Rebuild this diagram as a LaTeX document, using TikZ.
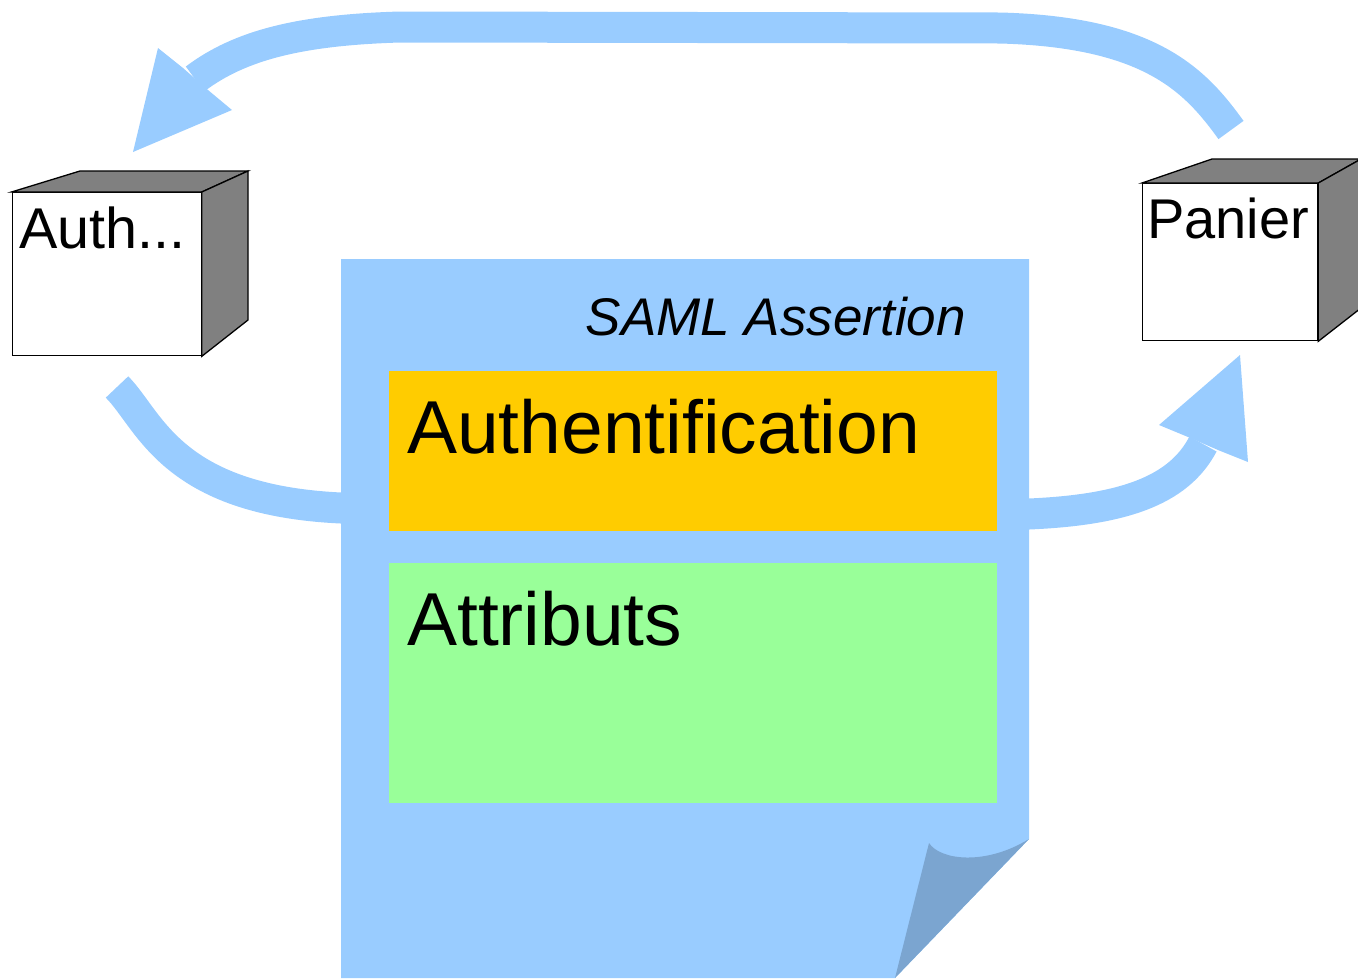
\documentclass[tikz,border=0pt]{standalone}
\usepackage{fontspec}
\setmainfont{Liberation Sans}
\definecolor{docblue}{HTML}{99CCFF}
\definecolor{folddark}{HTML}{7BA5D0}
\definecolor{orangeY}{HTML}{FFCC00}
\definecolor{greenL}{HTML}{99FF99}
\definecolor{cubegray}{HTML}{808080}
\begin{document}
\begin{tikzpicture}[x=1pt,y=-1pt,
  flow/.style={line width=31pt, draw=docblue, line cap=butt},
  headfill/.style={fill=docblue, draw=none},
  face/.style={draw=black, line width=1.3pt, line join=miter},
  lbl/.style={inner sep=0pt, anchor=base west, text=black},
  panel/.style={inner sep=0pt, anchor=north west, draw=none}]
\useasboundingbox (0,0) rectangle (1358,978);
\clip (0,0) rectangle (1358,978);

% ---- connectors (named end points) ----
\coordinate (topS) at (1231,130);
\coordinate (topA) at (1000,28);
\coordinate (topB) at (400,27);
\coordinate (topE) at (195,79);
\draw[flow] (topS) .. controls (1195,80) and (1150,32) .. (topA) -- (topB)
  .. controls (300,30) and (240,45) .. (topE);
\fill[headfill] (133,152) -- (158,48) -- (183,68) -- (208,90) -- (232,110) -- cycle;

\coordinate (blS) at (117,387);
\coordinate (blE) at (341,508);
\draw[flow] (blS) .. controls (150,420) and (170,500) .. (blE) -- (360,508);

\coordinate (rS) at (1029,514);
\coordinate (rE) at (1203,444);
\draw[flow] (1010,514) -- (rS) .. controls (1120,510) and (1178,492) .. (rE);
\fill[headfill] (1240,355) -- (1159,425) -- (1188,437) -- (1218,450) -- (1248,462) -- cycle;

% ---- document ----
\fill[docblue] (341,259) -- (1029,259) -- (1029,839) -- (895,978) -- (341,978) -- cycle;
\fill[folddark] (929,843) .. controls (940,860) and (985,866) .. (1029,839) -- (895,978) -- cycle;

\node[panel, fill=orangeY, minimum width=608pt, minimum height=160pt] (authbox) at (389,371) {};
\node[panel, fill=greenL, minimum width=608pt, minimum height=240pt] (attrbox) at (389,563) {};

\node[inner sep=0pt, anchor=base east, font=\fontsize{53}{60}\selectfont\itshape] (saml) at (966,335) {SAML Assertion};
\node[lbl, font=\fontsize{75}{84}\selectfont] (authtxt) at (407,453) {Authentification};
\node[lbl, font=\fontsize{75}{84}\selectfont] (attrtxt) at (407,645) {Attributs};

% ---- left cube ----
\node[face, fill=white, inner sep=0pt, anchor=north west, minimum width=189pt, minimum height=163pt] (authcube) at (11.5,192) {};
\filldraw[face, fill=cubegray] (authcube.north west) -- (80,171) -- (248,171) -- (authcube.north east) -- cycle;
\filldraw[face, fill=cubegray] (authcube.north east) -- (248,171) -- (248,320) -- (authcube.south east) -- cycle;
\node[lbl, font=\fontsize{57.5}{64}\selectfont] (authname) at (19,248) {Auth...};

% ---- right cube ----
\node[face, fill=white, inner sep=0pt, anchor=north west, minimum width=175pt, minimum height=157pt] (paniercube) at (1142,183) {};
\filldraw[face, fill=cubegray] (paniercube.north west) -- (1212,159) -- (1361,159) -- (paniercube.north east) -- cycle;
\filldraw[face, fill=cubegray] (paniercube.north east) -- (1361,159) -- (1361,308) -- (paniercube.south east) -- cycle;
\node[lbl, font=\fontsize{56}{64}\selectfont] (paniername) at (1147,238) {Panier};
\end{tikzpicture}
\end{document}
